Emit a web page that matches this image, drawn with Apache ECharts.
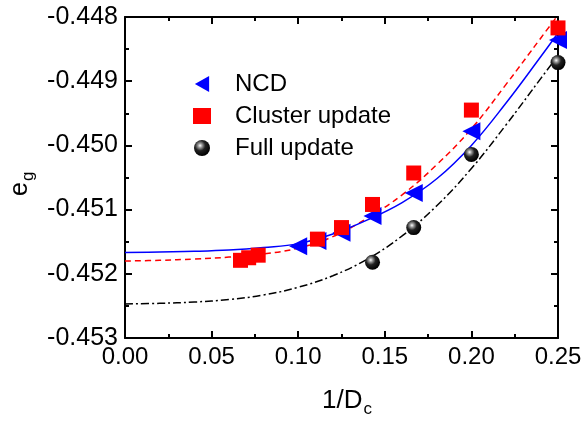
<!DOCTYPE html>
<html>
<head>
<meta charset="utf-8">
<script src="https://cdn.jsdelivr.net/npm/echarts@6/dist/echarts.min.js"></script>
<style>
  html, body { margin: 0; padding: 0; background: #fff; }
  #chart { width: 587px; height: 422px; }
</style>
</head>
<body>
<div id="chart"></div>
<script>
// 数据点
var ncdX = [0.1, 0.1111, 0.125, 0.1429, 0.1667, 0.2, 0.25];
var ncdY = [-0.45157, -0.45149, -0.45136, -0.45110, -0.45074, -0.44978, -0.44836];

var clusterX = [0.0667, 0.0714, 0.0769, 0.1111, 0.125, 0.1429, 0.1667, 0.2, 0.25];
var clusterY = [-0.45179, -0.45175, -0.45171, -0.45146, -0.45128, -0.45092, -0.45043, -0.44945, -0.44817];

var fullX = [0.1429, 0.1667, 0.2, 0.25];
var fullY = [-0.45182, -0.45128, -0.45014, -0.44871];

// 拟合曲线
var fitX = [0, 0.02, 0.04, 0.06, 0.08, 0.1, 0.12, 0.14, 0.16, 0.18, 0.2, 0.22, 0.24, 0.25];
var ncdFit = [-0.45167, -0.45166, -0.45165, -0.45163, -0.45159, -0.45153, -0.45138, -0.45116, -0.45089, -0.45052, -0.45000, -0.44934, -0.44862, -0.44825];
var clusterFit = [-0.45180, -0.45179, -0.45177, -0.45174, -0.45169, -0.45160, -0.45142, -0.45113, -0.45077, -0.45030, -0.44974, -0.44905, -0.44833, -0.44797];
var fullFit = [-0.45247, -0.45246, -0.45244, -0.45240, -0.45233, -0.45221, -0.45203, -0.45177, -0.45141, -0.45094, -0.45036, -0.44968, -0.44896, -0.44860];

function zip(xs, ys) {
    return xs.map(function (x, i) { return [x, ys[i]]; });
}

var font = 'Liberation Sans, Arial, sans-serif';

var chart = echarts.init(document.getElementById('chart'));

var xBase = {
    type: 'value',
    min: 0,
    max: 0.25,
    interval: 0.05,
    axisLine: { show: true, onZero: false, lineStyle: { color: '#000', width: 2 } },
    axisTick: { show: true, inside: true, length: 7, lineStyle: { color: '#000', width: 2 } },
    minorTick: { show: true, splitNumber: 2, length: 4, lineStyle: { color: '#000', width: 2 } },
    splitLine: { show: false },
    axisLabel: {
        show: true, color: '#000', fontFamily: font, fontSize: 24, margin: 7,
        formatter: function (v) { return v.toFixed(2); }
    }
};
var yBase = {
    type: 'value',
    min: -0.453,
    max: -0.448,
    interval: 0.001,
    axisLine: { show: true, onZero: false, lineStyle: { color: '#000', width: 2 } },
    axisTick: { show: true, inside: true, length: 7, lineStyle: { color: '#000', width: 2 } },
    minorTick: { show: true, splitNumber: 2, length: 4, lineStyle: { color: '#000', width: 2 } },
    splitLine: { show: false },
    axisLabel: {
        show: true, color: '#000', fontFamily: font, fontSize: 25, margin: 7,
        formatter: function (v) { return v.toFixed(3); }
    }
};

var option = {
    animation: false,
    grid: { left: 125, right: 29, top: 17, bottom: 84 },
    xAxis: [
        xBase,
        echarts.util.merge({ position: 'top', axisLabel: { show: false } }, xBase)
    ],
    yAxis: [
        yBase,
        echarts.util.merge({ position: 'right', axisLabel: { show: false } }, yBase)
    ],
    legend: {
        data: [
            { name: 'NCD', icon: 'path://M0,9 L16,0 L16,18 Z' },
            'Cluster update',
            'Full update'
        ],
        orient: 'vertical',
        left: 188,
        top: 67,
        itemWidth: 18,
        itemHeight: 16,
        itemGap: 8,
        textStyle: { color: '#000', fontFamily: font, fontSize: 24, lineHeight: 24, padding: [0, 0, 0, 19] }
    },
    graphic: [
        {
            type: 'text',
            left: 322,
            top: 388,
            style: {
                text: '1/D{s|c}',
                fill: '#000',
                font: '26px ' + font,
                rich: { s: { fontSize: 17, fontFamily: font, padding: [17, 0, 0, 1] } }
            }
        },
        {
            type: 'text',
            x: 4,
            y: 196,
            rotation: Math.PI / 2,
            style: {
                text: 'e{s|g}',
                fill: '#000',
                font: '25px ' + font,
                rich: { s: { fontSize: 17, fontFamily: font, padding: [16, 0, 0, 1] } }
            }
        }
    ],
    series: [
        {
            name: 'fullFit', type: 'line', data: zip(fitX, fullFit), smooth: 0.4,
            showSymbol: false, lineStyle: { color: '#000', width: 1.5, type: [8, 3, 2, 3] }, z: 1
        },
        {
            name: 'clusterFit', type: 'line', data: zip(fitX, clusterFit), smooth: 0.4,
            showSymbol: false, lineStyle: { color: '#ff0000', width: 1.5, type: [6, 4] }, z: 1
        },
        {
            name: 'ncdFit', type: 'line', data: zip(fitX, ncdFit), smooth: 0.4,
            showSymbol: false, lineStyle: { color: '#0000ff', width: 1.5 }, z: 1
        },
        {
            name: 'NCD', type: 'scatter', data: zip(ncdX, ncdY),
            symbol: 'triangle', symbolSize: 18, symbolRotate: 90,
            itemStyle: { color: '#0000ff', opacity: 1 }, z: 3
        },
        {
            name: 'Cluster update', type: 'scatter', data: zip(clusterX, clusterY),
            symbol: 'rect', symbolSize: 15,
            itemStyle: { color: '#ff0000', opacity: 1 }, z: 4
        },
        {
            name: 'Full update', type: 'scatter', data: zip(fullX, fullY),
            symbol: 'circle', symbolSize: 15,
            itemStyle: {
                opacity: 1,
                color: {
                    type: 'radial', x: 0.38, y: 0.35, r: 0.65,
                    colorStops: [
                        { offset: 0, color: '#ffffff' },
                        { offset: 0.2, color: '#9a9a9a' },
                        { offset: 0.5, color: '#222' },
                        { offset: 1, color: '#000' }
                    ]
                }
            },
            z: 5
        }
    ]
};

chart.setOption(option);
</script>
</body>
</html>
